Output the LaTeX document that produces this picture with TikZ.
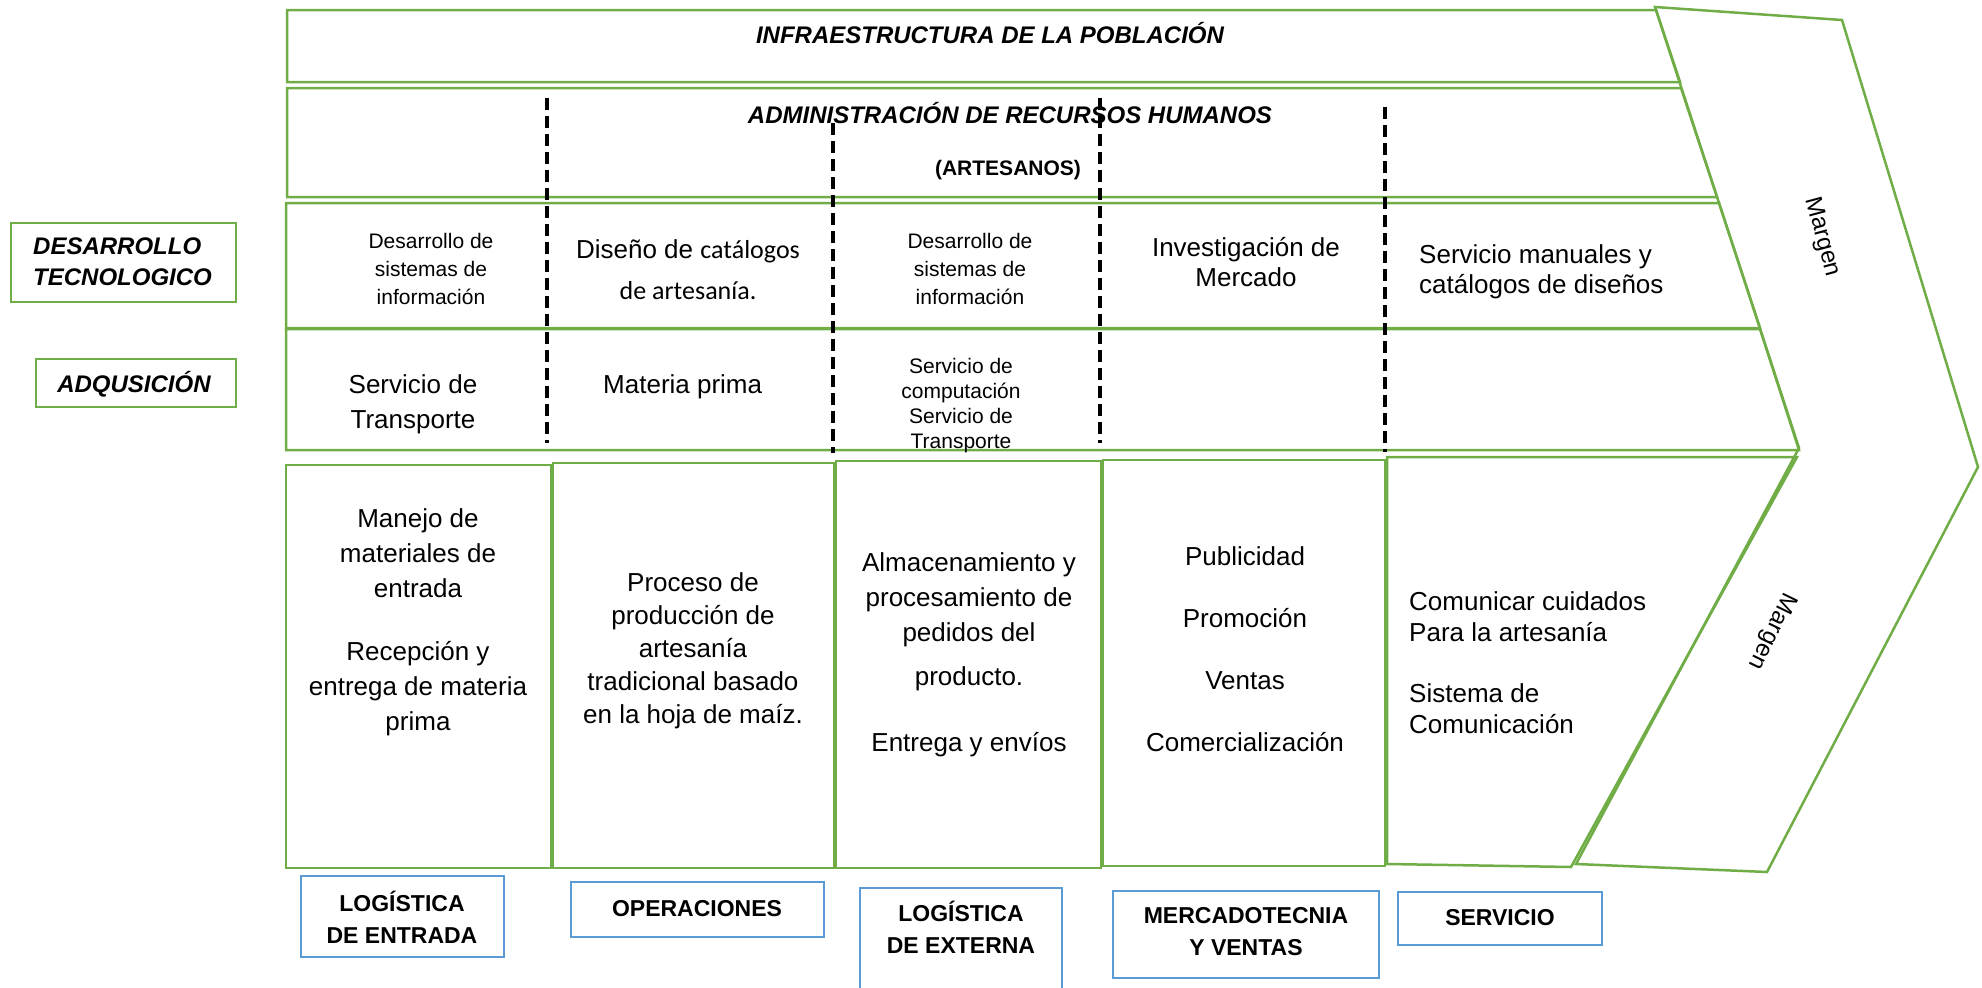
\documentclass[tikz,border=0pt]{standalone}
\usepackage{fontspec}
\setmainfont{Liberation Sans}
\newfontfamily\carlitofont{Carlito}
\definecolor{vgreen}{HTML}{70AD47}
\definecolor{lblue}{HTML}{5B9BD5}
\tikzset{
  greenline/.style={draw=vgreen, line width=2.5pt, line join=miter},
  bluebox/.style={draw=lblue, line width=2.5pt},
  divider/.style={draw=black, line width=3.5pt, dash pattern=on 12pt off 6pt},
  bodytext/.style={inner sep=0pt, align=center, font=\fontsize{26}{35}\selectfont},
  smalltext/.style={inner sep=0pt, align=center, font=\fontsize{21}{28}\selectfont},
  headtext/.style={inner sep=0pt, font=\fontsize{24}{31}\selectfont\bfseries\itshape},
  labeltext/.style={inner sep=0pt, align=center, font=\fontsize{23}{32}\selectfont\bfseries},
  margintext/.style={inner sep=0pt, font=\fontsize{24}{24}\selectfont}
}
\begin{document}
\begin{tikzpicture}[x=1pt,y=-1pt]
\useasboundingbox (0,0) rectangle (1982,988);

% chevron (margen)
\draw[greenline, fill=white] (1655,7) -- (1842,20) -- (1978,467) -- (1767,872) -- (1576,864) -- (1799,448) -- cycle;

% support activity rows
\draw[greenline] (287,10) -- (1656,10) -- (1680,82) -- (287,82) -- cycle;
\draw[greenline] (287,88) -- (1681,88) -- (1717,197) -- (287,197) -- cycle;
\draw[greenline] (286,203) -- (1719,203) -- (1760,328) -- (286,328) -- cycle;
\draw[greenline] (286,329) -- (1760,329) -- (1799,450) -- (286,450) -- cycle;

% primary activity boxes
\draw[greenline] (286,465) rectangle (551,868);
\draw[greenline] (553,463) rectangle (834,868);
\draw[greenline] (836,461) rectangle (1101,868);
\draw[greenline] (1103,460) rectangle (1385,866);
\draw[greenline] (1387,457) -- (1797,457) -- (1571,867) -- (1387,864) -- cycle;

% side label boxes
\draw[greenline] (11,223) rectangle (236,302);
\draw[greenline] (36,359) rectangle (236,407);

% headings
\node[headtext] (infra) at (990,33) {INFRAESTRUCTURA DE LA POBLACIÓN};
\node[headtext] (admin) at (1010,113) {ADMINISTRACIÓN DE RECURSOS HUMANOS};
\node[inner sep=0pt, font=\fontsize{21}{25}\selectfont\bfseries] (artes) at (1008,170) {(ARTESANOS)};
\node[headtext, align=left, anchor=west] (destec) at (33,262) {DESARROLLO\\TECNOLOGICO};
\node[headtext] (adqu) at (134,384) {ADQUSICIÓN};

% desarrollo row
\node[smalltext] (d1) at (431,269) {Desarrollo de\\sistemas de\\información};
\node[inner sep=0pt, align=center, font=\fontsize{26}{41}\selectfont] (d2) at (688,270) {Diseño de {\carlitofont catálogos}\\{\carlitofont de artesanía.}};
\node[smalltext] (d3) at (970,269) {Desarrollo de\\sistemas de\\información};
\node[bodytext, font=\fontsize{26}{30}\selectfont] (d4) at (1246,262) {Investigación de\\Mercado};
\node[bodytext, align=left, anchor=west, font=\fontsize{26}{30}\selectfont] (d5) at (1419,272) {Servicio manuales y\\catálogos de diseños};

% adquisicion row
\node[bodytext] (a1) at (413,404) {Servicio de\\Transporte};
\node[bodytext, anchor=west] (a2) at (603,387) {Materia prima};
\node[inner sep=0pt, align=center, font=\fontsize{21}{25}\selectfont] (a3) at (961,406) {Servicio de\\computación\\Servicio de\\Transporte};

% primary activities text
\node[bodytext] (b1) at (418,622) {Manejo de\\materiales de\\entrada\\[28pt]Recepción y\\entrega de materia\\prima};
\node[bodytext, font=\fontsize{26}{33}\selectfont] (b2) at (693,651) {Proceso de\\producción de\\artesanía\\tradicional basado\\en la hoja de maíz.};
\node[bodytext] (b3) at (969,655) {Almacenamiento y\\procesamiento de\\pedidos del\\[9pt]producto.\\[31pt]Entrega y envíos};
\node[bodytext] (b4) at (1245,649) {Publicidad\\[27pt]Promoción\\[27pt]Ventas\\[27pt]Comercialización};
\node[bodytext, align=left, anchor=west, font=\fontsize{26}{31}\selectfont] (b5) at (1409,663) {Comunicar cuidados\\Para la artesanía\\[30pt]Sistema de\\Comunicación};

% margen
\node[margintext, rotate=-75] (m1) at (1822,237) {Margen};
\node[margintext, rotate=-116] (m2) at (1772,631) {Margen};

% dashed dividers
\draw[divider] (547,98) -- (547,443);
\draw[divider] (833,123) -- (833,453);
\draw[divider] (1100,98) -- (1100,443);
\draw[divider] (1385,107) -- (1385,452);

% bottom labels
\draw[bluebox] (301,876) rectangle (504,957);
\node[labeltext] (l1) at (402,917) {LOGÍSTICA\\DE ENTRADA};
\draw[bluebox] (571,882) rectangle (824,937);
\node[labeltext] (l2) at (697,909) {OPERACIONES};
\draw[bluebox] (860,1000) -- (860,888) -- (1062,888) -- (1062,1000);
\node[labeltext] (l3) at (961,927) {LOGÍSTICA\\DE EXTERNA};
\draw[bluebox] (1113,891) rectangle (1379,978);
\node[labeltext] (l4) at (1246,932) {MERCADOTECNIA\\Y VENTAS};
\draw[bluebox] (1398,892) rectangle (1602,945);
\node[labeltext] (l5) at (1500,918) {SERVICIO};
\end{tikzpicture}
\end{document}
